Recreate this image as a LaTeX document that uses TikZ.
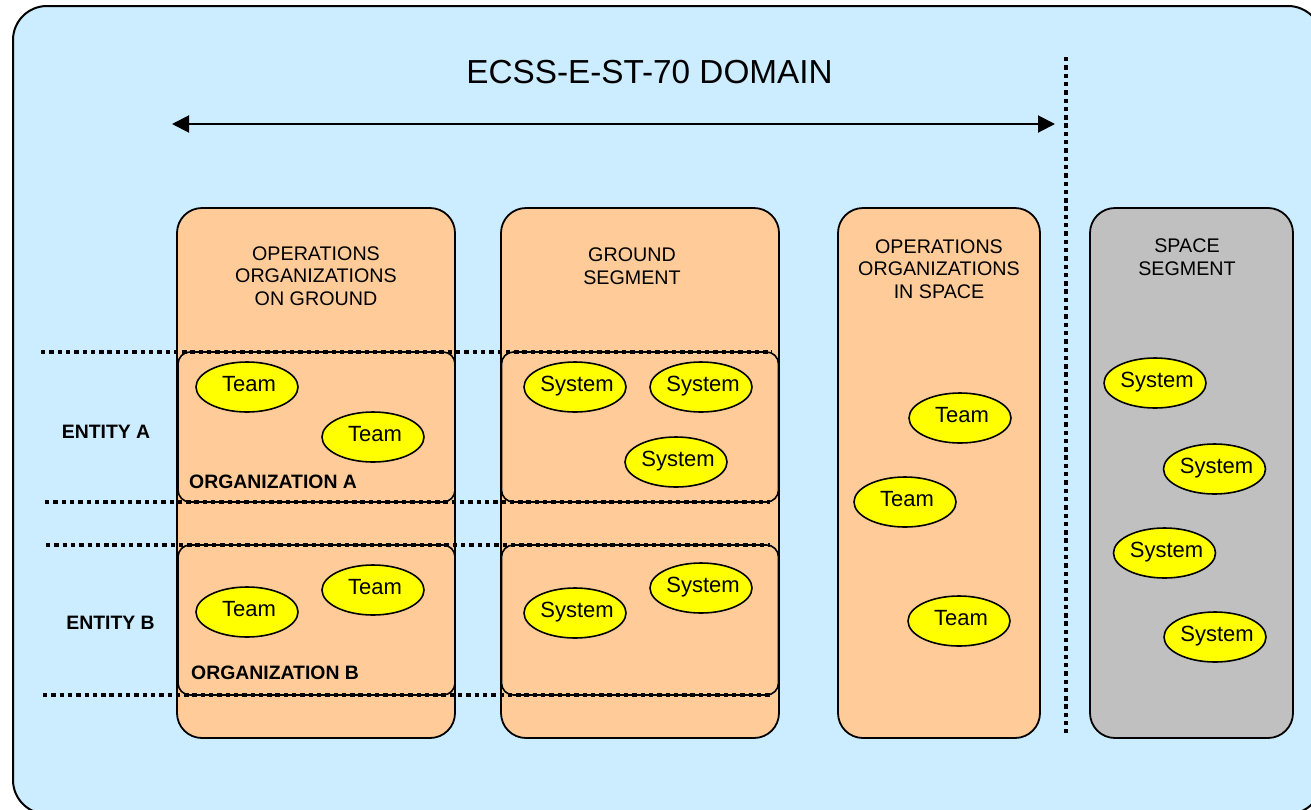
\documentclass[tikz,border=0pt]{standalone}
\usepackage{fontspec}
\setmainfont{Liberation Sans}
\usetikzlibrary{shapes.geometric,arrows.meta}
\definecolor{bgblue}{HTML}{CCECFF}
\definecolor{orng}{HTML}{FFCC99}
\definecolor{grayc}{HTML}{C0C0C0}
\definecolor{yel}{HTML}{FFFF00}
\newcommand{\ovtxt}[1]{\makebox[0pt]{\hspace*{4pt}#1}}
\begin{document}
\begin{tikzpicture}[x=1pt,y=-1pt,line join=round,
  colbox/.style={draw=black,line width=1.8pt,rounded corners=25pt,fill=orng,inner sep=0pt,minimum height=530pt},
  orgbox/.style={draw=black,line width=1.6pt,rounded corners=12pt,fill=orng,inner sep=0pt,minimum width=277pt,minimum height=150pt},
  sep/.style={line width=4.4pt,dash pattern=on 4.4pt off 3.9pt},
  oval/.style={ellipse,draw=black,line width=1.6pt,fill=yel,inner sep=0pt,minimum width=102pt,minimum height=50pt,
    text height=8pt,text depth=0pt,font=\fontsize{22}{24}\selectfont},
  head/.style={align=center,inner sep=0pt,font=\fontsize{19.7}{22.5}\selectfont},
  boldlbl/.style={inner sep=0pt,font=\fontsize{19.4}{22}\selectfont\bfseries}
]
\useasboundingbox (0,0) rectangle (1311,809);
\begin{scope}
\clip (0,0) rectangle (1311,809);
\draw[fill=bgblue,line width=2pt,rounded corners=34pt] (13,6) rectangle (1322,814);
\end{scope}

% title and arrow
\node[inner sep=0pt,font=\fontsize{33.3}{36}\selectfont] (title) at (649.5,72) {ECSS-E-ST-70 DOMAIN};
\coordinate (aL) at (172,124);
\coordinate (aR) at (1055,124);
\draw[line width=2pt,{Triangle[length=17pt,width=17pt]}-{Triangle[length=17pt,width=17pt]}] (aL) -- (aR);

% vertical separator
\coordinate (vT) at (1066,57);
\coordinate (vB) at (1066,733);
\draw[sep] (vT) -- (vB);

% columns
\node[colbox,minimum width=278pt] (c1) at (316,473) {};
\node[colbox,minimum width=278pt] (c2) at (640,473) {};
\node[colbox,minimum width=202pt] (c3) at (939,473) {};
\node[colbox,minimum width=203pt,fill=grayc] (c4) at (1191.5,473) {};

\node[head] (h1) at (316,276) {OPERATIONS\\ORGANIZATIONS\\ON GROUND};
\node[head] (h2) at (632,266) {GROUND\\SEGMENT};
\node[head] (h3) at (939,269) {OPERATIONS\\ORGANIZATIONS\\IN SPACE};
\node[head] (h4) at (1187,257) {SPACE\\SEGMENT};

% organization boxes
\node[orgbox] (oA1) at (316.5,427) {};
\node[orgbox] (oA2) at (640,427) {};
\node[orgbox] (oB1) at (316.5,620) {};
\node[orgbox] (oB2) at (640,620) {};

% dotted horizontal separators
\coordinate (s1L) at (41,352);  \coordinate (s1R) at (772,352);
\coordinate (s2L) at (45,502);  \coordinate (s2R) at (770,502);
\coordinate (s3L) at (46,545);  \coordinate (s3R) at (770,545);
\coordinate (s4L) at (43,695);  \coordinate (s4R) at (770,695);
\draw[sep] (s1L) -- (s1R);
\draw[sep] (s2L) -- (s2R);
\draw[sep] (s3L) -- (s3R);
\draw[sep] (s4L) -- (s4R);

% labels
\node[boldlbl] (eA) at (106,432) {ENTITY A};
\node[boldlbl] (eB) at (110.5,623) {ENTITY B};
\node[boldlbl,anchor=west] (lA) at (189,482) {ORGANIZATION A};
\node[boldlbl,anchor=west] (lB) at (191,673) {ORGANIZATION B};

% teams in ground organizations
\node[oval] (t1) at (247,387) {\ovtxt{Team}};
\node[oval] (t2) at (373,437) {\ovtxt{Team}};
\node[oval] (t3) at (247,612) {\ovtxt{Team}};
\node[oval] (t4) at (373,590) {\ovtxt{Team}};

% ground segment systems
\node[oval] (g1) at (575,387) {\ovtxt{System}};
\node[oval] (g2) at (701,387) {\ovtxt{System}};
\node[oval] (g3) at (676,462) {\ovtxt{System}};
\node[oval] (g4) at (575,613) {\ovtxt{System}};
\node[oval] (g5) at (701,588) {\ovtxt{System}};

% teams in space
\node[oval] (t5) at (960,418) {\ovtxt{Team}};
\node[oval] (t6) at (905,502) {\ovtxt{Team}};
\node[oval] (t7) at (959,621) {\ovtxt{Team}};

% space segment systems
\node[oval] (p1) at (1155,383) {\ovtxt{System}};
\node[oval] (p2) at (1214.5,469) {\ovtxt{System}};
\node[oval] (p3) at (1164.5,553) {\ovtxt{System}};
\node[oval] (p4) at (1215,637) {\ovtxt{System}};
\end{tikzpicture}
\end{document}
